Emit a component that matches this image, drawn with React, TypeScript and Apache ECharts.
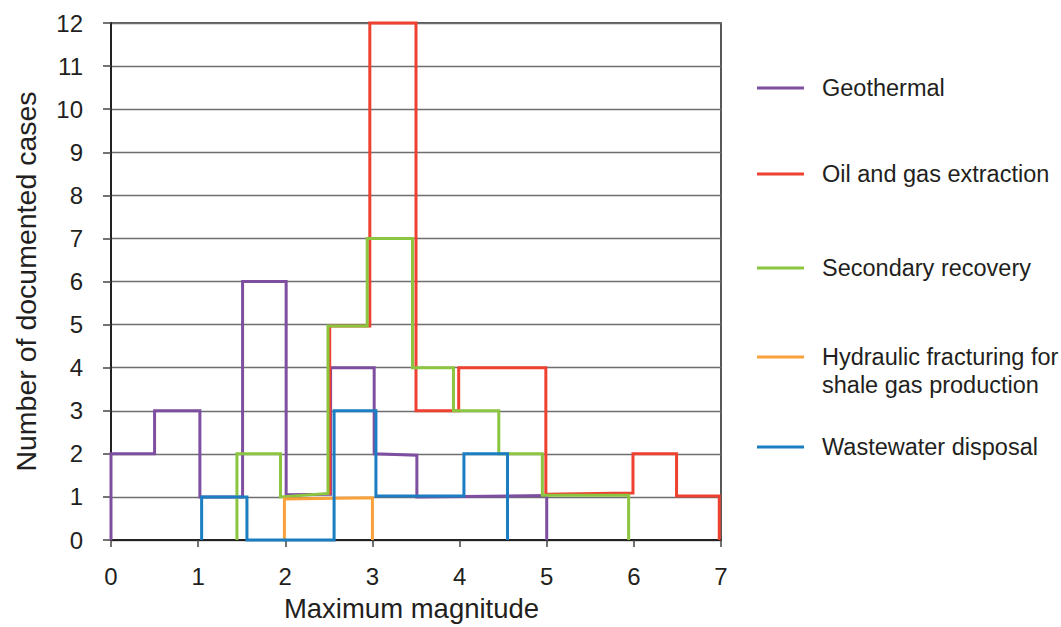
import React, { useEffect, useRef } from "react";
import * as echarts from "echarts";

// Step-outline vertices (magnitude, number of cases)
const geothermalX = [0, 0, 0.5, 0.5, 1.02, 1.02, 1.51, 1.51, 2.01, 2.01, 2.52, 2.52, 3.02, 3.02, 3.51, 3.51, 5.0, 5.0];
const geothermalY = [0, 2, 2, 3, 3, 1, 1, 6, 6, 1.05, 1.06, 4, 4, 2, 1.97, 1.0, 1.03, 0];

const oilGasX = [2.51, 2.51, 2.97, 2.97, 3.5, 3.5, 3.99, 3.99, 4.99, 4.99, 5.99, 5.99, 6.49, 6.49, 6.98, 6.98];
const oilGasY = [1.05, 4.97, 4.97, 12, 12, 3, 3, 4, 4, 1.06, 1.09, 2, 2, 1.02, 1.02, 0];

const secondaryX = [1.445, 1.445, 1.945, 1.945, 2.49, 2.49, 2.94, 2.94, 3.46, 3.46, 3.93, 3.93, 4.45, 4.45, 4.95, 4.95, 5.94, 5.94];
const secondaryY = [0, 2, 2, 1.0, 1.08, 4.97, 4.97, 7, 7, 4, 4, 3, 3, 2, 2, 1.04, 1.04, 0];

const hydraulicX = [1.99, 1.99, 3.0, 3.0];
const hydraulicY = [0, 0.95, 0.98, 0];

const wastewaterX = [1.04, 1.04, 1.56, 1.56, 2.56, 2.56, 3.04, 3.04, 4.05, 4.05, 4.55, 4.55];
const wastewaterY = [0, 1, 1, 0, 0, 3, 3, 1.02, 1.02, 2, 2, 0];

const seriesNames = [
  "Geothermal",
  "Oil and gas extraction",
  "Secondary recovery",
  "Hydraulic fracturing for\nshale gas production",
  "Wastewater disposal",
];
const seriesColors = ["#7e4fa0", "#ee4130", "#8cc540", "#f9a23b", "#1b7ec2"];
const seriesXs = [geothermalX, oilGasX, secondaryX, hydraulicX, wastewaterX];
const seriesYs = [geothermalY, oilGasY, secondaryY, hydraulicY, wastewaterY];

const xTicks = [0, 1, 2, 3, 4, 5, 6, 7];
const yTicks = [0, 1, 2, 3, 4, 5, 6, 7, 8, 9, 10, 11, 12];

const legendTops = [74, 160, 254, 315, 433];

const FONT = "'Liberation Sans', Arial, sans-serif";
const TEXT = "#231f20";

export default function App() {
  const ref = useRef<HTMLDivElement>(null);
  useEffect(() => {
    if (!ref.current) return;
    const chart = echarts.init(ref.current, null, { renderer: "svg" });
    const series = seriesNames.map((name, i) => ({
      name,
      type: "line",
      data: seriesXs[i].map((x, k) => [x, seriesYs[i][k]]),
      showSymbol: false,
      symbol: "none",
      clip: false,
      lineStyle: { color: seriesColors[i], width: 3, join: "miter" },
      itemStyle: { color: seriesColors[i] },
      z: 3 + i,
    }));
    const legends = seriesNames.map((name, i) => ({
      data: [name],
      left: 757,
      top: legendTops[i],
      orient: "vertical",
      padding: 0,
      icon: "rect",
      itemWidth: 47,
      itemHeight: 3,
      selectedMode: false,
      formatter: (n: string) => (n.indexOf("\n") >= 0 ? "\n" + n : n),
      textStyle: {
        fontFamily: FONT,
        fontSize: 23.5,
        color: TEXT,
        lineHeight: 28,
        padding: [0, 0, 0, 13],
      },
    }));
    chart.setOption({
      animation: false,
      backgroundColor: "#ffffff",
      textStyle: { fontFamily: FONT },
      grid: {
        left: 111,
        top: 23,
        right: 340,
        bottom: 85,
        show: true,
        borderColor: "#222",
        borderWidth: 1.5,
        backgroundColor: "transparent",
      },
      legend: legends,
      xAxis: {
        type: "value",
        min: xTicks[0],
        max: xTicks[xTicks.length - 1],
        interval: 1,
        name: "Maximum magnitude",
        nameLocation: "middle",
        nameGap: 54,
        nameTextStyle: { fontFamily: FONT, fontSize: 27.5, color: TEXT, padding: [0, 9, 0, 0] },
        axisLine: { show: true, onZero: false, lineStyle: { color: "#222", width: 2 } },
        axisTick: { show: true, length: 7, lineStyle: { color: "#444", width: 1.5 } },
        axisLabel: { fontFamily: FONT, fontSize: 24, color: TEXT, margin: 24 },
        splitLine: { show: false },
      },
      yAxis: {
        type: "value",
        min: yTicks[0],
        max: yTicks[yTicks.length - 1],
        interval: 1,
        name: "Number of documented cases",
        nameLocation: "middle",
        nameGap: 71,
        nameTextStyle: { fontFamily: FONT, fontSize: 28.5, color: TEXT },
        axisLine: { show: true, lineStyle: { color: "#222", width: 2 } },
        axisTick: { show: true, length: 8, lineStyle: { color: "#444", width: 1.5 } },
        axisLabel: { fontFamily: FONT, fontSize: 24, color: TEXT, margin: 28 },
        splitLine: { show: true, lineStyle: { color: "#6e6e6e", width: 1.3 } },
      },
      series,
    });
    return () => chart.dispose();
  }, []);
  return (
    <div
      ref={ref}
      style={{ position: "absolute", left: 0, top: 0, width: 1061, height: 627, background: "#fff" }}
    />
  );
}
